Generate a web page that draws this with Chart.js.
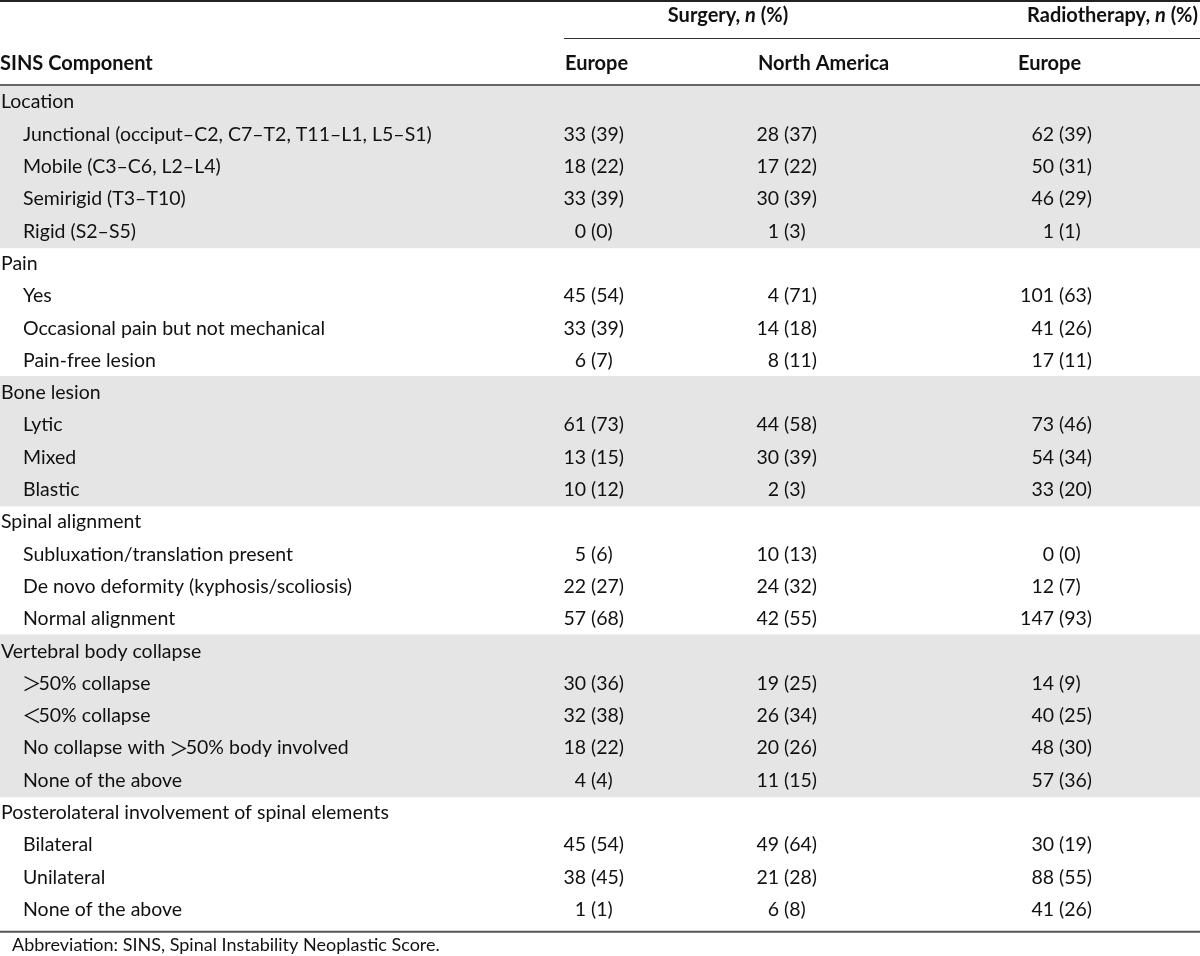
<!DOCTYPE html>
<html>
<head>
<meta charset="utf-8">
<script src="https://cdn.jsdelivr.net/npm/chart.js@4.4.1/dist/chart.umd.min.js"></script>
<style>
  html, body { margin: 0; padding: 0; background: #fff; }
  canvas { display: block; }
</style>
</head>
<body>
<canvas id="sinsTable" width="1200" height="956"></canvas>
<script>
// SINS components by treatment group, n (%)
const groupNames = [
  'Location',
  'Pain',
  'Bone lesion',
  'Spinal alignment',
  'Vertebral body collapse',
  'Posterolateral involvement of spinal elements'
];
const itemLabels = [
  ['Junctional (occiput–C2, C7–T2, T11–L1, L5–S1)', 'Mobile (C3–C6, L2–L4)', 'Semirigid (T3–T10)', 'Rigid (S2–S5)'],
  ['Yes', 'Occasional pain but not mechanical', 'Pain-free lesion'],
  ['Lytic', 'Mixed', 'Blastic'],
  ['Subluxation/translation present', 'De novo deformity (kyphosis/scoliosis)', 'Normal alignment'],
  ['＞50% collapse', '＜50% collapse', 'No collapse with ＞50% body involved', 'None of the above'],
  ['Bilateral', 'Unilateral', 'None of the above']
];

// values in item order (20 items)
const surgeryEuropeN   = [33, 18, 33, 0, 45, 33, 6, 61, 13, 10, 5, 22, 57, 30, 32, 18, 4, 45, 38, 1];
const surgeryEuropePct = [39, 22, 39, 0, 54, 39, 7, 73, 15, 12, 6, 27, 68, 36, 38, 22, 4, 54, 45, 1];
const surgeryNAN       = [28, 17, 30, 1, 4, 14, 8, 44, 30, 2, 10, 24, 42, 19, 26, 20, 11, 49, 21, 6];
const surgeryNAPct     = [37, 22, 39, 3, 71, 18, 11, 58, 39, 3, 13, 32, 55, 25, 34, 26, 15, 64, 28, 8];
const radioEuropeN     = [62, 50, 46, 1, 101, 41, 17, 73, 54, 33, 0, 12, 147, 14, 40, 48, 57, 30, 88, 41];
const radioEuropePct   = [39, 31, 29, 1, 63, 26, 11, 46, 34, 20, 0, 7, 93, 9, 25, 30, 36, 19, 55, 26];

const shadedGroups = [0, 2, 4];

const FONT = '"Lato", "Noto Sans", sans-serif';
const SYMBOL_FONT = '19.5px "Noto Sans CJK SC", sans-serif';
const TEXT = '#111';

// flatten into table rows
const rows = [];
let k = 0;
groupNames.forEach((name, g) => {
  rows.push({ label: name, group: true, g });
  itemLabels[g].forEach(label => {
    rows.push({
      label, group: false, g,
      cells: [
        [surgeryEuropeN[k], surgeryEuropePct[k]],
        [surgeryNAN[k], surgeryNAPct[k]],
        [radioEuropeN[k], radioEuropePct[k]]
      ]
    });
    k++;
  });
});

// x position (table units) of the "(" in each value column
const columnAnchors = [591, 784, 1059];

const tableText = {
  id: 'tableText',
  afterDatasetsDraw(chart) {
    const { ctx, scales: { x, y }, chartArea } = chart;
    ctx.save();
    ctx.fillStyle = TEXT;
    ctx.textBaseline = 'middle';

    const body = '19.5px ' + FONT;
    // labels with the wide comparison signs: draw the sign a bit tighter
    const drawLabel = (txt, lx, py) => {
      ctx.textAlign = 'left';
      let cx = lx;
      txt.split(/([＞＜])/).forEach(part => {
        if (!part) return;
        if (part === '＞' || part === '＜') {
          ctx.font = SYMBOL_FONT;
          ctx.fillText(part, cx - 1, py);
          cx += ctx.measureText(part).width - 4;
        } else {
          ctx.font = body;
          ctx.fillText(part, cx, py);
          cx += ctx.measureText(part).width;
        }
      });
    };

    ctx.font = body;
    const space = ctx.measureText(' ').width;
    rows.forEach((row, i) => {
      const py = y.getPixelForValue(i);
      drawLabel(row.label, x.getPixelForValue(row.group ? 1 : 23), py);
      if (row.group) return;
      ctx.font = body;
      row.cells.forEach((cell, c) => {
        const ax = x.getPixelForValue(columnAnchors[c]);
        ctx.textAlign = 'right';
        ctx.fillText(String(cell[0]), ax - space, py);
        ctx.textAlign = 'left';
        ctx.fillText('(' + cell[1] + ')', ax, py);
      });
    });

    // header
    const bold = 'bold 20px ' + FONT;
    const boldIt = 'italic bold 20px ' + FONT;
    const runWidth = runs => runs.reduce((w, [txt, font]) => { ctx.font = font; return w + ctx.measureText(txt).width; }, 0);
    const drawRuns = (runs, startX, py) => {
      let cx = startX;
      ctx.textAlign = 'left';
      runs.forEach(([txt, font]) => {
        ctx.font = font;
        ctx.fillText(txt, cx, py);
        cx += ctx.measureText(txt).width;
      });
    };
    const surgery = [['Surgery, ', bold], ['n', boldIt], [' (%)', bold]];
    const radio = [['Radiotherapy, ', bold], ['n', boldIt], [' (%)', bold]];
    drawRuns(surgery, x.getPixelForValue(728) - runWidth(surgery) / 2, 16);
    drawRuns(radio, x.getPixelForValue(1198) - runWidth(radio), 16);
    ctx.font = bold;
    ctx.fillText('SINS Component', x.getPixelForValue(0), 64);
    ctx.fillText('Europe', x.getPixelForValue(565), 64);
    ctx.fillText('North America', x.getPixelForValue(758), 64);
    ctx.fillText('Europe', x.getPixelForValue(1018), 64);

    // rules
    ctx.strokeStyle = '#222';
    ctx.lineWidth = 2;
    ctx.beginPath(); ctx.moveTo(0, 1); ctx.lineTo(1200, 1); ctx.stroke();
    ctx.strokeStyle = '#333';
    ctx.lineWidth = 1;
    ctx.beginPath(); ctx.moveTo(x.getPixelForValue(564), 38.5); ctx.lineTo(1200, 38.5); ctx.stroke();
    ctx.lineWidth = 1.5;
    ctx.beginPath(); ctx.moveTo(0, chartArea.top - 1); ctx.lineTo(1200, chartArea.top - 1); ctx.stroke();
    ctx.strokeStyle = '#555';
    ctx.lineWidth = 2;
    ctx.beginPath(); ctx.moveTo(0, chartArea.bottom + 6); ctx.lineTo(1200, chartArea.bottom + 6); ctx.stroke();

    // footnote
    ctx.fillStyle = TEXT;
    ctx.textAlign = 'left';
    ctx.font = '18px ' + FONT;
    ctx.fillText('Abbreviation: SINS, Spinal Instability Neoplastic Score.', 12, 945);
    ctx.restore();
  }
};

new Chart(document.getElementById('sinsTable'), {
  type: 'bar',
  data: {
    labels: rows.map(r => r.label),
    datasets: [{
      label: 'shade',
      data: rows.map(r => shadedGroups.includes(r.g) ? 1200 : null),
      backgroundColor: '#e5e5e5',
      borderWidth: 0,
      barPercentage: 1.04,
      categoryPercentage: 1
    }]
  },
  options: {
    indexAxis: 'y',
    responsive: false,
    animation: false,
    devicePixelRatio: 1,
    layout: { padding: { top: 86, bottom: 956 - 86 - 26 * 32.3, left: 0, right: 0 } },
    scales: {
      x: { display: false, min: 0, max: 1200 },
      y: { display: false, grid: { display: false } }
    },
    plugins: {
      legend: { display: false },
      tooltip: { enabled: false }
    }
  },
  plugins: [tableText]
});
</script>
</body>
</html>
